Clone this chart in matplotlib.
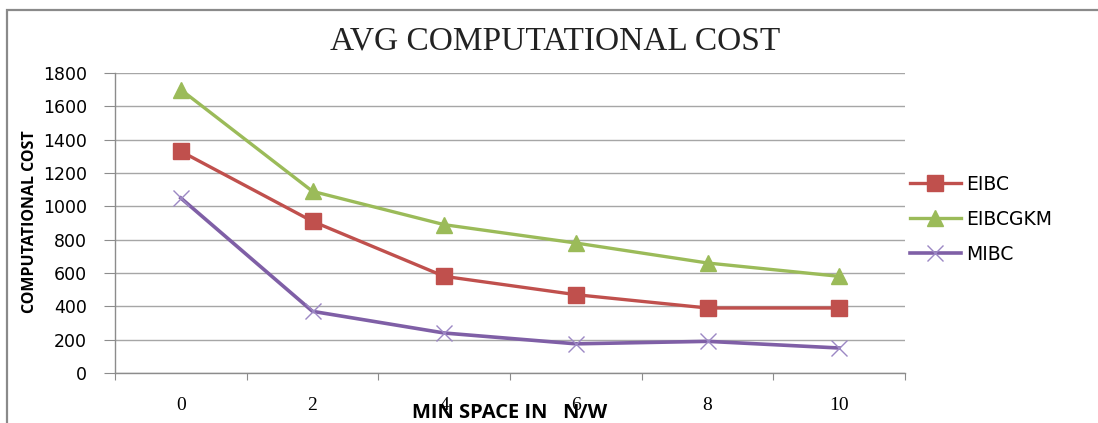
import matplotlib
matplotlib.use("Agg")
import matplotlib.pyplot as plt
from matplotlib.patches import Rectangle
import numpy as np

categories = ["0", "2", "4", "6", "8", "10"]
eibc = [1330, 910, 580, 470, 390, 390]
eibcgkm = [1700, 1090, 890, 780, 660, 580]
mibc = [1050, 370, 240, 175, 190, 150]
y_ticks = [0, 200, 400, 600, 800, 1000, 1200, 1400, 1600, 1800]

W, H = 1098, 423
fig = plt.figure(figsize=(W / 100, H / 100), dpi=100)
ax = fig.add_axes([115 / W, 1 - 373 / H, (905 - 115) / W, (373 - 73) / H])

x = np.arange(len(categories))
ax.plot(x, eibc, color="#C0504D", lw=2.4, marker="s", ms=11, label="EIBC", zorder=3)
ax.plot(x, eibcgkm, color="#9BBB59", lw=2.4, marker="^", ms=11, label="EIBCGKM", zorder=3)
ax.plot(x, mibc, color="#7F5FA6", lw=2.6, marker="x", ms=12, mew=1.0,
        mec="#9C88C4", label="MIBC", zorder=3)

ax.set_xlim(-0.5, len(categories) - 0.5)
ax.set_ylim(0, 1800)
ax.set_yticks(y_ticks)
ax.set_yticklabels([str(v) for v in y_ticks], fontsize=12.5, family="DejaVu Sans")
ax.yaxis.grid(True, color="#a6a6a6", lw=1.0)
ax.set_axisbelow(True)

# category boundaries carry tick marks, category centres carry labels
ax.set_xticks(np.arange(-0.5, len(categories), 1.0))
ax.set_xticklabels([])
ax.set_xticks(x, minor=True)
ax.set_xticklabels(categories, minor=True, fontsize=14, family="Liberation Serif")
ax.tick_params(axis="x", which="major", length=5, color="#8c8c8c", direction="out")
ax.tick_params(axis="x", which="minor", length=0, pad=17)
ax.tick_params(axis="y", length=8, color="#8c8c8c", pad=12)

for s in ["top", "right"]:
    ax.spines[s].set_visible(False)
for s in ["left", "bottom"]:
    ax.spines[s].set_color("#8c8c8c")
    ax.spines[s].set_linewidth(1.0)

fig.text(555 / W, 1 - 41 / H, "AVG COMPUTATIONAL COST", ha="center", va="center",
         fontsize=24, family="Liberation Serif", color="#222222")
fig.text(30 / W, 1 - 222 / H, "COMPUTATIONAL COST", rotation=90, ha="center",
         va="center", fontsize=11.5, fontweight="bold", family="Open Sans")
fig.text(510 / W, 1 - 413 / H, "MIN SPACE IN   N/W", ha="center", va="center",
         fontsize=14.5, fontweight="bold", family="Open Sans")

fig.legend(loc="upper left", bbox_to_anchor=(893 / W, 1 - 158 / H), frameon=False,
           handlelength=2.7, labelspacing=0.85, handletextpad=0.3,
           prop={"family": "DejaVu Sans", "size": 13.5})

fig.add_artist(Rectangle((7 / W, -0.2), 1.2, 1.2 - 10 / H, transform=fig.transFigure,
                         fill=False, ec="#8a8a8a", lw=1.6, clip_on=False))

fig.savefig("out.png", dpi=100)
